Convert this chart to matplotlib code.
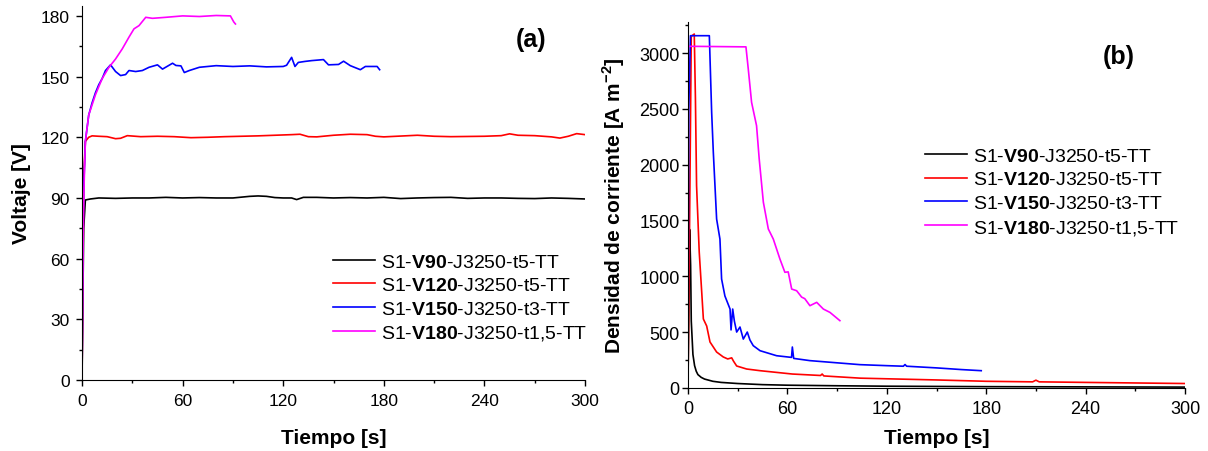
import matplotlib
matplotlib.use("Agg")
import matplotlib.pyplot as plt
from matplotlib.ticker import MultipleLocator

plt.rcParams["font.family"] = ["Liberation Sans", "DejaVu Sans"]
plt.rcParams["mathtext.fontset"] = "custom"
plt.rcParams["mathtext.rm"] = "Liberation Sans"
plt.rcParams["mathtext.bf"] = "Liberation Sans:bold"

labels = [
    r"S1-$\mathbf{V90}$-J3250-t5-TT",
    r"S1-$\mathbf{V120}$-J3250-t5-TT",
    r"S1-$\mathbf{V150}$-J3250-t3-TT",
    r"S1-$\mathbf{V180}$-J3250-t1,5-TT",
]
colors = ["black", "red", "blue", "magenta"]

# (a) voltage vs time
t_v90 = [0, 0.5, 1, 2, 5, 10, 20, 30, 40, 50, 60, 70, 80, 90, 100, 105, 110, 115,
         120, 125, 128, 132, 140, 150, 160, 170, 180, 190, 200, 210, 220, 230, 240,
         250, 260, 270, 280, 290, 300]
v_v90 = [0, 40, 75, 89, 89.5, 90, 89.8, 90, 90, 90.3, 90, 90.2, 90, 90, 90.8, 91,
         90.8, 90.2, 90, 90, 89.2, 90.3, 90.3, 90, 90.2, 90, 90.3, 89.7, 90, 90.2,
         90.3, 89.8, 90, 90, 89.8, 89.7, 90, 89.8, 89.5]

t_v120 = [0, 0.5, 1, 2, 4, 6, 10, 15, 20, 23, 27, 35, 45, 55, 65, 75, 85, 95, 105,
          115, 125, 130, 135, 140, 150, 160, 170, 175, 180, 190, 200, 210, 220, 230,
          240, 250, 255, 260, 270, 280, 285, 290, 295, 300]
v_v120 = [0, 50, 100, 118, 120, 120.7, 120.5, 120.3, 119.3, 119.5, 120.8, 120.3,
          120.5, 120.3, 119.8, 120, 120.3, 120.5, 120.7, 121, 121.3, 121.5, 120.3,
          120.2, 121, 121.5, 121.3, 120.5, 120.2, 120.6, 121, 120.5, 120.3, 120.4,
          120.5, 120.8, 121.7, 121, 120.8, 120.2, 119.6, 120.5, 121.8, 121.3]

t_v150 = [0, 0.5, 1, 2, 4, 6, 8, 10, 12, 14, 17, 20, 23, 26, 28, 32, 36, 40, 45, 48,
          54, 56, 59, 61, 64, 70, 80, 90, 100, 110, 120, 122, 125, 127, 129, 133,
          137, 144, 147, 153, 156, 160, 166, 169, 176, 177.5]
v_v150 = [0, 60, 95, 118, 131, 137, 142, 146, 149, 153, 155.8, 152.5, 150.5, 151,
          153, 152.5, 153, 154.6, 155.8, 153.7, 156.6, 155.5, 155.3, 152, 153, 154.6,
          155.4, 155, 155.3, 154.8, 155, 155.6, 159.5, 155, 157, 157.5, 157.9, 158.4,
          155.8, 156, 157.6, 155.4, 153.4, 155, 155, 153.4]

t_v180 = [0, 0.5, 1, 2, 4, 8, 12, 16, 20, 24, 28, 31, 34, 38, 42, 50, 60, 70, 80,
          88.5, 90.5, 91.5]
v_v180 = [0, 55, 90, 118, 131, 141, 149, 154.5, 158.7, 163.7, 169.5, 173.6, 175.2,
          179.3, 178.8, 179.3, 180, 179.7, 180.2, 180, 177, 176]

# (b) current density vs time
t_j90 = [0, 1, 1.6, 2, 3, 4, 5, 6, 8, 10, 15, 20, 30, 45, 60, 90, 120, 180, 240, 300]
j_j90 = [0, 1420, 1100, 600, 300, 200, 150, 120, 95, 80, 60, 50, 40, 30, 25, 20, 16,
         12, 10, 8]

t_j120 = [0, 1, 2, 3.8, 4.5, 5.2, 6.8, 8.3, 9.3, 11.3, 13.3, 17.3, 21.3, 24, 26.4,
          27.5, 29.4, 35.4, 43.5, 63, 80, 81, 82, 104, 150, 180, 208, 210, 212, 240,
          270, 300]
j_j120 = [0, 1500, 3150, 3170, 2600, 1812, 1218, 860, 618, 555, 412, 322, 278, 260,
          270, 240, 197, 170, 155, 125, 112, 125, 108, 88, 72, 60, 55, 70, 55, 50, 45,
          40]

t_j150 = [0, 0.5, 1.5, 12.9, 14.3, 15.3, 17.3, 19.3, 20.3, 22.3, 25.4, 26, 27, 28,
          29.4, 31.4, 33.4, 35.8, 37.4, 39.4, 43.5, 53.5, 62.5, 63, 63.8, 73.6, 93.7,
          103.8, 120, 130, 131, 132, 150, 165, 177]
j_j150 = [0, 2500, 3155, 3155, 2470, 2113, 1513, 1334, 976, 824, 707, 520, 707, 600,
          501, 546, 438, 501, 430, 379, 334, 289, 274, 367, 265, 245, 221, 209, 200,
          195, 210, 195, 180, 165, 155]

t_j180 = [0, 0.2, 1, 35, 36.4, 38.4, 41.4, 43, 45.5, 48.5, 51.5, 55.5, 58.5, 60.5,
          62.6, 65.6, 68.6, 70.5, 73.6, 77.7, 81.7, 85.7, 91.7]
j_j180 = [0, 3060, 3060, 3055, 2857, 2558, 2349, 2051, 1664, 1424, 1334, 1155, 1036,
          1040, 886, 871, 814, 800, 737, 767, 707, 677, 603]

fig = plt.figure(figsize=(12.08, 4.52), dpi=100)
ax1 = fig.add_axes([0.0679, 0.157, 0.4164, 0.828])
ax2 = fig.add_axes([0.5695, 0.1394, 0.4115, 0.8098])


def style(ax, size, ypad):
    for side in ["top", "right"]:
        ax.spines[side].set_visible(False)
    ax.tick_params(which="both", direction="out", labelsize=size, width=1)
    ax.tick_params(which="major", length=4)
    ax.tick_params(which="minor", length=2.2)
    ax.tick_params(axis="x", pad=5)
    ax.tick_params(axis="y", pad=ypad)


volt = [(t_v90, v_v90), (t_v120, v_v120), (t_v150, v_v150), (t_v180, v_v180)]
for (t, v), c, lab in zip(volt, colors, labels):
    ax1.plot(t, v, color=c, lw=1.2, label=lab)
ax1.set_xlim(0, 300)
ax1.set_ylim(0, 185)
ax1.xaxis.set_major_locator(MultipleLocator(60))
ax1.xaxis.set_minor_locator(MultipleLocator(30))
ax1.yaxis.set_major_locator(MultipleLocator(30))
ax1.yaxis.set_minor_locator(MultipleLocator(15))
style(ax1, 12.5, 5)
ax1.set_xlabel("Tiempo [s]", fontsize=15, fontweight="bold")
ax1.set_ylabel("Voltaje [V]", fontsize=15, fontweight="bold")
ax1.xaxis.set_label_coords(0.5, -0.129)
ax1.yaxis.set_label_coords(-0.101, 0.5)
ax1.legend(loc="upper left", bbox_to_anchor=(0.2757, 0.438),
           bbox_transform=fig.transFigure, frameon=False, fontsize=14,
           borderpad=0, borderaxespad=0, handlelength=2.15, handletextpad=0.3,
           labelspacing=0.3)

curr = [(t_j90, j_j90), (t_j120, j_j120), (t_j150, j_j150), (t_j180, j_j180)]
for (t, j), c, lab in zip(curr, colors, labels):
    ax2.plot(t, j, color=c, lw=1.2, label=lab)
ax2.set_xlim(0, 300)
ax2.set_ylim(0, 3278)
ax2.xaxis.set_major_locator(MultipleLocator(60))
ax2.xaxis.set_minor_locator(MultipleLocator(30))
ax2.yaxis.set_major_locator(MultipleLocator(500))
ax2.yaxis.set_minor_locator(MultipleLocator(250))
style(ax2, 13, 2)
ax2.set_xlabel("Tiempo [s]", fontsize=15, fontweight="bold")
ax2.set_ylabel(r"Densidad de corriente [A m$^{\mathbf{-2}}$]", fontsize=15,
               fontweight="bold")
ax2.xaxis.set_label_coords(0.5, -0.109)
ax2.yaxis.set_label_coords(-0.123, 0.5)
ax2.legend(loc="upper left", bbox_to_anchor=(0.7657, 0.672),
           bbox_transform=fig.transFigure, frameon=False, fontsize=14,
           borderpad=0, borderaxespad=0, handlelength=2.15, handletextpad=0.3,
           labelspacing=0.3)

fig.text(0.4396, 0.9115, "(a)", fontsize=18, fontweight="bold", ha="center", va="center")
fig.text(0.9263, 0.8728, "(b)", fontsize=18, fontweight="bold", ha="center", va="center")

fig.savefig("out.png", dpi=100)
